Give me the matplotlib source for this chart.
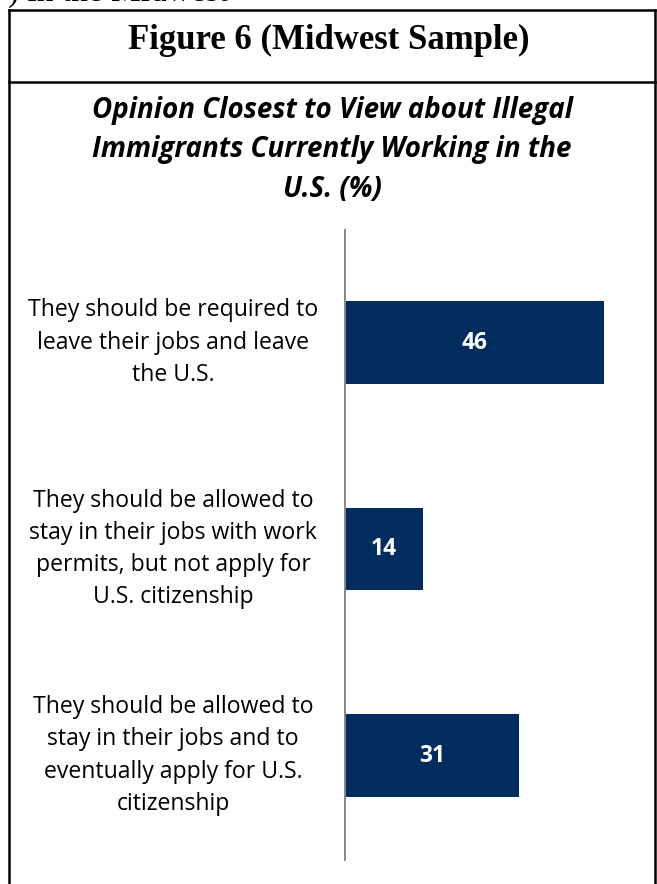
import matplotlib
matplotlib.use("Agg")
import matplotlib.pyplot as plt
from matplotlib.lines import Line2D
from matplotlib.transforms import blended_transform_factory

# Survey responses (percent)
categories = [
    "They should be required to\nleave their jobs and leave\nthe U.S.",
    "They should be allowed to\nstay in their jobs with work\npermits, but not apply for\nU.S. citizenship",
    "They should be allowed to\nstay in their jobs and to\neventually apply for U.S.\ncitizenship",
]
values = [46, 14, 31]

figure_title = "Figure 6 (Midwest Sample)"
chart_title = "Opinion Closest to View about Illegal\nImmigrants Currently Working in the\nU.S. (%)"
running_text = ") in the Midwest"

W, H = 657, 884
DPI = 100
BAR_COLOR = "#002D5E"

fig = plt.figure(figsize=(W / DPI, H / DPI), dpi=DPI)
fig.patch.set_facecolor("white")


def fx(px):
    return px / W


def fy(py):
    return 1 - py / H


# Line of body text running into the top edge
fig.text(fx(8), fy(1), running_text, ha="left", va="baseline",
         fontsize=24, family="Liberation Serif", color="black")

# Frame around the figure
frame_kw = dict(color="black", linewidth=1.8, transform=fig.transFigure, solid_capstyle="projecting")
fig.add_artist(Line2D([fx(9), fx(655)], [fy(10), fy(10)], **frame_kw))
fig.add_artist(Line2D([fx(9), fx(9)], [fy(10), fy(900)], **frame_kw))
fig.add_artist(Line2D([fx(655), fx(655)], [fy(10), fy(900)], **frame_kw))
fig.add_artist(Line2D([fx(9), fx(655)], [fy(82), fy(82)], **frame_kw))

# Figure heading
fig.text(fx(329), fy(40), figure_title, ha="center", va="center",
         fontsize=25, fontweight="bold", family="Liberation Serif")

# Chart title
fig.text(fx(332), fy(150), chart_title, ha="center", va="center",
         fontsize=20, fontweight="bold", fontstyle="italic",
         family="Open Sans", linespacing=1.47)

# Bar chart
ax = fig.add_axes([fx(344.5), fy(860), fx(300), (860 - 230) / H])
y = list(range(len(values)))
ax.barh(y, values, height=0.40, color=BAR_COLOR, left=0)
ax.set_xlim(0, 300 / 5.64)
ax.set_ylim(2.506, -0.545)

for side in ("top", "right", "bottom"):
    ax.spines[side].set_visible(False)
ax.spines["left"].set_color("#888888")
ax.spines["left"].set_linewidth(1.4)
ax.set_xticks([])
ax.set_yticks([])
ax.patch.set_alpha(0)

for yi, v in zip(y, values):
    ax.text(v / 2, yi, str(v), ha="center", va="center", color="white",
            fontsize=16.5, fontweight="bold", family="Open Sans")

trans = blended_transform_factory(fig.transFigure, ax.transData)
for yi, label in zip(y, categories):
    ax.text(fx(173), yi, label, transform=trans, ha="center", va="center",
            fontsize=16.6, family="Open Sans", linespacing=1.46, color="black")

fig.savefig("out.png", dpi=DPI, facecolor="white")
